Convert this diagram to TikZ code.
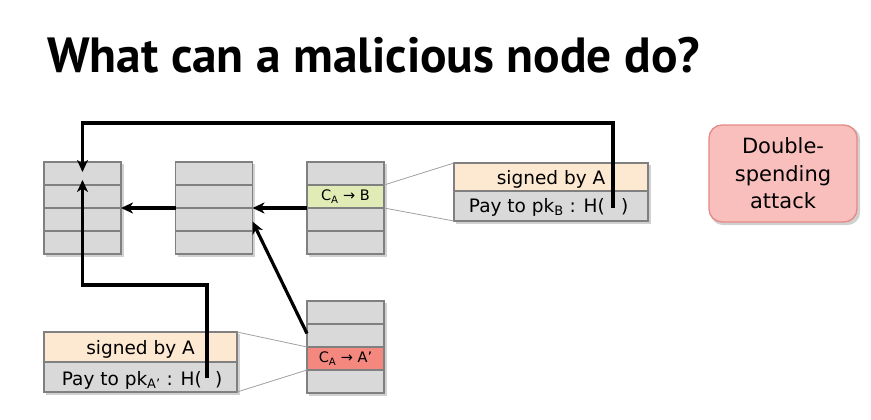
\documentclass[tikz,border=0pt]{standalone}
\usepackage{fontspec}
\setmainfont{DejaVu Sans}
\newfontfamily\titlefont{PT Sans}
\usetikzlibrary{arrows.meta,calc,backgrounds}
\definecolor{cellgray}{HTML}{D9D9D9}
\definecolor{cellborder}{HTML}{808080}
\definecolor{peach}{HTML}{FDE9D2}
\definecolor{lime}{HTML}{E1EBB6}
\definecolor{redrow}{HTML}{F4877E}
\definecolor{pinkfill}{HTML}{F9BFBD}
\definecolor{pinkborder}{HTML}{E58A87}
\definecolor{thin}{HTML}{A0A0A0}
\tikzset{
  cell/.style={draw=cellborder, line width=1.3pt, fill=cellgray, minimum width=77pt,
    minimum height=23pt, inner sep=0pt, outer sep=0pt, font=\fontsize{14.5}{16}\selectfont},
  txrow/.style={draw=cellborder, line width=1.3pt, minimum width=194pt, inner sep=0pt, outer sep=0pt},
  txt/.style={inner sep=0pt, font=\fontsize{18.5}{21}\selectfont},
  arr/.style={-{Stealth[length=12pt,width=11pt,inset=3.5pt]}, line width=3.2pt, black},
  link/.style={draw=thin, line width=0.8pt},
  shade/.style={fill=black, opacity=0.18},
}
\begin{document}
\begin{tikzpicture}[x=1pt,y=-1pt]
\useasboundingbox (0,0) rectangle (871,420);

% title
\node[anchor=base west, inner sep=0pt] (title) at (47,73)
  {\resizebox{653pt}{!}{\titlefont\bfseries\fontsize{40}{48}\selectfont What can a malicious node do?}};

% block 1
\node[cell] (b1r1) at (82.5,173.5) {};
\node[cell] (b1r2) at (82.5,196.5) {};
\node[cell] (b1r3) at (82.5,219.5) {};
\node[cell] (b1r4) at (82.5,242.5) {};
% block 2
\node[cell] (b2r1) at (214,173.5) {};
\node[cell] (b2r2) at (214,196.5) {};
\node[cell] (b2r3) at (214,219.5) {};
\node[cell] (b2r4) at (214,242.5) {};
% block 3
\node[cell] (b3r1) at (345.5,173.5) {};
\node[cell, fill=lime] (b3r2) at (345.5,196.5) {C\textsubscript{A} → B};
\node[cell] (b3r3) at (345.5,219.5) {};
\node[cell] (b3r4) at (345.5,242.5) {};
% block 4
\node[cell] (b4r1) at (345.5,312.5) {};
\node[cell] (b4r2) at (345.5,335.5) {};
\node[cell, fill=redrow] (b4r3) at (345.5,358.5) {C\textsubscript{A} → A’};
\node[cell] (b4r4) at (345.5,381.5) {};

% top transaction
\node[txrow, fill=peach, minimum height=28pt] (tsig) at (551,177) {};
\node[txrow, fill=cellgray, minimum height=30pt, anchor=north] (tpay) at (tsig.south) {};
\node[txt, anchor=base] (tsigtxt) at (551,184.5) {signed by A};
\node[txt, anchor=base east] (tpaytxt) at (605,212) {Pay to pk\textsubscript{B} : H(};
\node[txt, anchor=base west] (tparen) at (621,212) {)};

% bottom transaction
\node[txrow, fill=peach, minimum width=193pt, minimum height=30pt] (bsig) at (140.5,347) {};
\node[txrow, fill=cellgray, minimum width=193pt, minimum height=30pt, anchor=north] (bpay) at (bsig.south) {};
\node[txt, anchor=base] (bsigtxt) at (140.5,354.5) {signed by A};
\node[txt, anchor=base east] (bpaytxt) at (202,385) {Pay to pk\textsubscript{A’} : H(};
\node[txt, anchor=base west] (bparen) at (215,385) {)};

% double spending
\node[draw=pinkborder, line width=1.3pt, fill=pinkfill, rounded corners=13pt,
  minimum width=148pt, minimum height=97pt, align=center,
  font=\fontsize{21}{27.5}\selectfont] (ds) at (783,173.5) {Double-\\spending\\attack};

% shadows
\begin{scope}[on background layer]
  \foreach \bk in {1,2,3,4}{
    \fill[shade] ($(b\bk r1.north west)+(2,2)$) rectangle ($(b\bk r4.south east)+(2.5,2.5)$);
  }
  \fill[shade] ($(tsig.north west)+(2,2)$) rectangle ($(tpay.south east)+(2.5,2.5)$);
  \fill[shade] ($(bsig.north west)+(2,2)$) rectangle ($(bpay.south east)+(2.5,2.5)$);
  \fill[shade, rounded corners=13pt] ($(ds.north west)+(2,2)$) rectangle ($(ds.south east)+(2.5,2.5)$);
\end{scope}

% thin links
\draw[link] (b3r2.north east) -- (tsig.north west);
\draw[link] (b3r2.south east) -- (tpay.south west);
\draw[link] (bsig.north east) -- (b4r3.north west);
\draw[link] (bpay.south east) -- (b4r3.south west);

% arrows
\draw[arr] (b3r2.south west) -- (b2r2.south east);
\draw[arr] (b2r2.south west) -- (b1r2.south east);
\draw[arr] ($(b4r2.west)+(0,-2)$) -- ($(b2r3.east)+(0,2)$);

\coordinate (tstart) at (613,208);
\coordinate (tturn) at (0,123);
\coordinate (tend) at ($(b1r1.center)+(0,-1.5)$);
\draw[arr] (tstart) -- (tstart |- tturn) -| (tend);

\coordinate (bstart) at (207,378);
\coordinate (bturn) at (0,285);
\coordinate (bend) at ($(b1r1.south)+(0,-5)$);
\draw[arr] (bstart) -- (bstart |- bturn) -| (bend);
\end{tikzpicture}
\end{document}
